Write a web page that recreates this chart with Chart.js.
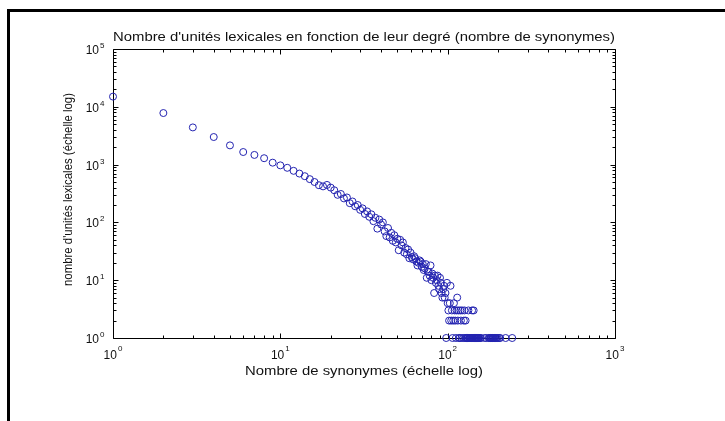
<!DOCTYPE html>
<html><head><meta charset="utf-8">
<script src="https://cdn.jsdelivr.net/npm/chart.js@4.4.1/dist/chart.umd.min.js"></script>
<style>html,body{margin:0;padding:0;background:#fff;}canvas{display:block}</style>
</head><body>
<canvas id="c" width="725" height="421" style="width:725px;height:421px"></canvas>
<script>
const chartTitle = "Nombre d'unités lexicales en fonction de leur degré (nombre de synonymes)";
const xAxisTitle = "Nombre de synonymes (échelle log)";
const yAxisTitle = "nombre d'unités lexicales (échelle log)";

const degrees = [
  1,2,3,4,5,6,7,8,9,10,
  11,12,13,14,15,16,17,18,19,20,
  21,22,23,24,25,26,27,28,29,30,
  31,32,33,34,35,36,37,38,39,40,
  41,42,43,44,45,46,47,48,49,50,
  51,52,53,54,55,56,57,58,59,60,
  61,62,63,64,65,66,67,68,69,70,
  71,72,73,74,75,76,77,78,79,80,
  81,82,83,84,85,86,87,88,89,90,
  91,92,93,94,95,96,97,98,99,
  100,101,102,103,104,105,106,107,108,109,110,111,112,113,114,115,116,117,118,119,120,
  121,122,124,125,126,127,128,129,130,131,132,133,134,135,136,137,138,139,140,
  141,142,143,144,145,146,147,148,149,150,151,152,153,154,156,158,166,170,
  176,178,180,181,183,185,186,188,190,192,194,196,199,203,206,222,243
];
const counts = [
  15000,7800,4400,3000,2150,1650,1470,1290,1080,970,
  880,780,700,630,560,500,440,420,445,400,
  360,300,310,260,270,215,230,190,200,165,
  175,140,155,125,138,105,120,78,112,92,
  100,70,58,80,55,66,48,60,45,52,
  33,50,40,45,30,36,28,34,24,30,
  25,23,26,24,21,18,20,22,21,17,
  19,15,16,19,11,14,14,12,18,10,
  13,11,6,12,9,10,12,8,7,11,
  9,6,5,7,8,5,6,1,9,
  4,3,2,4,8,2,3,1,2,4,3,2,1,3,5,2,3,1,1,3,2,
  1,3,1,2,3,1,2,1,1,1,1,3,1,1,1,1,1,1,3,
  1,1,3,1,1,1,1,1,1,1,1,1,1,1,1,1,1,1,
  1,1,1,1,1,1,1,1,1,1,1,1,1,1,1,1,1
];

const xTickValues = [1, 10, 100, 1000];
const yTickValues = [1, 10, 100, 1000, 10000, 100000];
const tickBase = "10";
const xTickExponents = ["0", "1", "2", "3"];
const yTickExponents = ["0", "1", "2", "3", "4", "5"];

const points = degrees.map((d, i) => ({x: d, y: counts[i]}));
const FONT = "'Liberation Sans', Arial, Helvetica, sans-serif";

function fitText(ctx, text, cx, cy, size, targetW, rot) {
  ctx.save();
  ctx.font = size + 'px ' + FONT;
  const w = ctx.measureText(text).width;
  ctx.translate(cx, cy);
  if (rot) ctx.rotate(rot);
  ctx.scale(targetW / w, 1);
  ctx.textAlign = 'center';
  ctx.textBaseline = 'middle';
  ctx.fillText(text, 0, 0);
  ctx.restore();
}

const matlabAxes = {
  id: 'matlabAxes',
  beforeDatasetsDraw(chart) {
    const {ctx, chartArea: a, scales: {x, y}} = chart;
    ctx.save();
    ctx.fillStyle = '#000';
    ctx.fillRect(7, 9, 718, 3);
    ctx.fillRect(7, 9, 3, 412);
    const L = Math.round(a.left) + 0.5, R = Math.round(a.right) + 0.5;
    const T = Math.round(a.top) + 0.5, B = Math.round(a.bottom) + 0.5;
    ctx.strokeStyle = '#000';
    ctx.lineWidth = 1;
    ctx.beginPath();
    ctx.rect(L, T, R - L, B - T);
    const major = 5, minor = 3;
    const vTick = (v, len) => {
      const p = Math.round(x.getPixelForValue(v)) + 0.5;
      ctx.moveTo(p, B); ctx.lineTo(p, B - len);
      ctx.moveTo(p, T); ctx.lineTo(p, T + len);
    };
    const hTick = (v, len) => {
      const p = Math.round(y.getPixelForValue(v)) + 0.5;
      ctx.moveTo(L, p); ctx.lineTo(L + len, p);
      ctx.moveTo(R, p); ctx.lineTo(R - len, p);
    };
    xTickValues.forEach((v, i) => {
      vTick(v, major);
      if (i < xTickValues.length - 1) for (let m = 2; m < 10; m++) vTick(v * m, minor);
    });
    yTickValues.forEach((v, i) => {
      hTick(v, major);
      if (i < yTickValues.length - 1) for (let m = 2; m < 10; m++) hTick(v * m, minor);
    });
    ctx.stroke();
    ctx.restore();
  },
  afterDraw(chart) {
    const {ctx, chartArea: a, scales: {x, y}} = chart;
    ctx.save();
    ctx.fillStyle = '#111';
    ctx.textBaseline = 'alphabetic';
    const baseFont = '12px ' + FONT, expFont = '8px ' + FONT;
    xTickValues.forEach((v, i) => {
      const px = x.getPixelForValue(v);
      ctx.font = baseFont;
      const bw = ctx.measureText(tickBase).width;
      ctx.font = expFont;
      const ew = ctx.measureText(xTickExponents[i]).width;
      const start = px - (bw + ew + 1) / 2;
      ctx.font = baseFont; ctx.textAlign = 'left';
      ctx.fillText(tickBase, start, a.bottom + 21);
      ctx.font = expFont;
      ctx.fillText(xTickExponents[i], start + bw + 1, a.bottom + 13);
    });
    yTickValues.forEach((v, i) => {
      const py = y.getPixelForValue(v);
      ctx.font = expFont; ctx.textAlign = 'left';
      ctx.fillText(yTickExponents[i], a.left - 13, py - 1);
      ctx.font = baseFont; ctx.textAlign = 'right';
      ctx.fillText(tickBase, a.left - 14, py + 5);
    });
    const cx = (a.left + a.right) / 2;
    fitText(ctx, chartTitle, cx, a.top - 12, 13, 502, 0);
    fitText(ctx, xAxisTitle, cx, a.bottom + 33, 13, 238, 0);
    fitText(ctx, yAxisTitle, 69, (a.top + a.bottom) / 2 - 4, 12, 193, -Math.PI / 2);
    ctx.restore();
  }
};

new Chart(document.getElementById('c'), {
  type: 'scatter',
  data: {
    datasets: [{
      data: points,
      pointStyle: 'circle',
      pointRadius: 3.5,
      pointHoverRadius: 3.5,
      borderColor: '#2323b0',
      backgroundColor: 'rgba(0,0,0,0)',
      borderWidth: 1,
      clip: false
    }]
  },
  options: {
    responsive: false,
    animation: false,
    devicePixelRatio: 1,
    events: [],
    layout: {padding: {left: 113, right: 110, top: 49, bottom: 83}},
    plugins: {legend: {display: false}, title: {display: false}, tooltip: {enabled: false}},
    scales: {
      x: {type: 'logarithmic', min: 1, max: 1000, display: false},
      y: {type: 'logarithmic', min: 1, max: 100000, display: false}
    }
  },
  plugins: [matlabAxes]
});
</script>
</body></html>
